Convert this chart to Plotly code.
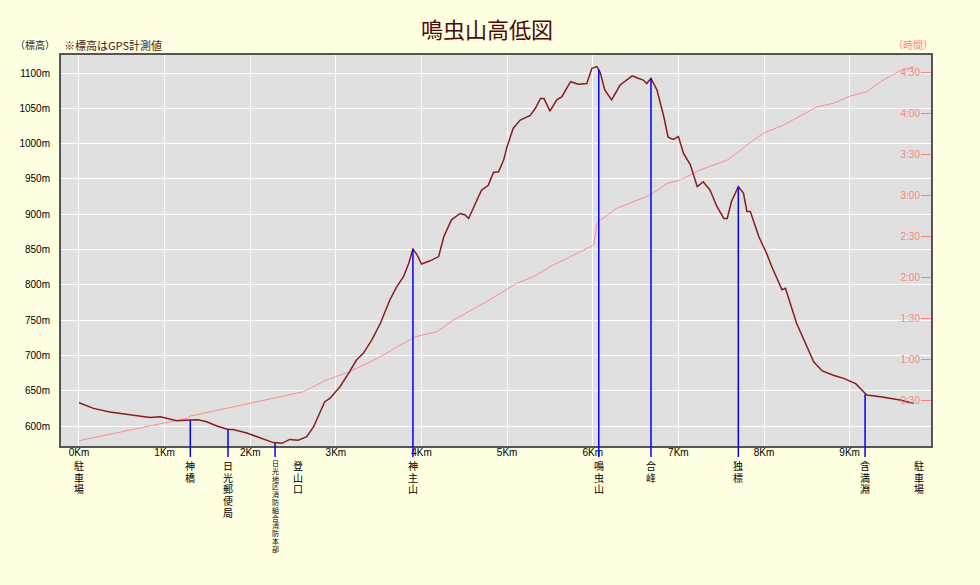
import plotly.graph_objects as go

# ---- data ----
dist_km = [0.00, 0.17, 0.36, 0.60, 0.83, 0.95, 1.02, 1.14, 1.30, 1.39, 1.49, 1.61, 1.74, 1.80,
           1.96, 2.11, 2.27, 2.37, 2.46, 2.56, 2.66, 2.74, 2.87, 2.93, 3.05, 3.15, 3.24, 3.32,
           3.42, 3.52, 3.63, 3.71, 3.79, 3.85, 3.90, 3.95, 4.00, 4.10, 4.20, 4.26, 4.35, 4.45,
           4.51, 4.55, 4.61, 4.70, 4.78, 4.84, 4.90, 4.96, 5.00, 5.07, 5.15, 5.27, 5.33, 5.39,
           5.43, 5.50, 5.58, 5.64, 5.74, 5.83, 5.93, 5.99, 6.05, 6.09, 6.14, 6.22, 6.32, 6.46,
           6.53, 6.59, 6.63, 6.68, 6.75, 6.83, 6.88, 6.94, 7.00, 7.06, 7.14, 7.22, 7.29, 7.37,
           7.45, 7.53, 7.57, 7.62, 7.70, 7.76, 7.80, 7.84, 7.94, 8.03, 8.09, 8.21, 8.25, 8.38,
           8.58, 8.68, 8.81, 8.93, 9.07, 9.20, 9.36, 9.59, 9.75]
elev_m = [633, 625, 620, 616, 612, 613, 611, 607.5, 608.5, 609, 606, 600, 595, 595,
          590, 583, 576.5, 575.5, 581, 580, 585, 599, 634.5, 639, 656, 675, 693.5, 703,
          722, 745.5, 778.5, 797, 811.5, 830, 851, 842, 829.5, 834, 840, 868, 892, 901,
          899, 894, 911, 934, 941, 959, 960, 977, 996, 1021.5, 1033, 1040, 1050, 1064,
          1064, 1046, 1062, 1066.5, 1087.7, 1084, 1085, 1106.6, 1109, 1099.5, 1076, 1062, 1083, 1096,
          1092.5, 1090, 1085, 1092.5, 1076, 1038, 1009, 1006, 1010, 986, 970, 939, 946, 934,
          911, 894, 894, 918, 939, 930, 904, 904, 868, 844.6, 826, 793, 795, 745.5,
          691, 678, 672, 667.5, 660, 644, 641.5, 637, 632]

time_km = [0.00, 1.27, 1.29, 1.72, 2.27, 2.62, 2.89, 3.16, 3.48, 3.87, 3.93, 4.18, 4.37, 4.76,
           5.02, 5.11, 5.31, 5.50, 5.70, 5.89, 6.01, 6.05, 6.09, 6.28, 6.48, 6.67, 6.87, 7.02,
           7.25, 7.57, 7.68, 7.80, 7.99, 8.23, 8.62, 8.81, 9.01, 9.20, 9.36, 9.59, 9.75]
time_min = [1.0, 17.5, 18.8, 24.6, 31.9, 36.7, 45.3, 51.3, 61.0, 74.5, 76.9, 80.5, 89.0, 102.4,
            112.2, 115.8, 120.7, 128.0, 134.1, 140.1, 143.8, 159.6, 162.0, 170.6, 175.4, 180.3, 188.8, 191.2,
            198.5, 205.8, 210.7, 216.8, 225.3, 231.4, 244.7, 247.2, 252.6, 255.7, 263.0, 271.0, 273.9]

# waypoints: name, km, elevation (None = label only)
wp_names = ["駐車場", "神橋", "日光郵便局", "日光地区消防組合消防本部", "登山口", "神主山",
            "鳴虫山", "合峰", "独標", "含満淵", "駐車場"]
wp_km = [0.0, 1.30, 1.74, 2.29, 2.56, 3.90, 6.07, 6.68, 7.70, 9.18, 9.81]
wp_elev = [None, 608.5, 595, 576, None, 851, 1105, 1092.5, 939, 645, None]

elev_ticks = [600, 650, 700, 750, 800, 850, 900, 950, 1000, 1050, 1100]
elev_ticktext = [f"{v}m" for v in elev_ticks]
time_ticks = [30, 60, 90, 120, 150, 180, 210, 240, 270]
time_ticktext = ["0:30", "1:00", "1:30", "2:00", "2:30", "3:00", "3:30", "4:00", "4:30"]
km_ticks = list(range(10))
km_ticktext = [f"{k}Km" for k in km_ticks]

ELEV_RANGE = [571.7, 1125.5]
TIME_RANGE = [-2.9, 282.5]
X_RANGE = [-0.21, 9.95]

W, H = 980, 585
ML, MR, MT, MB = 61, 49, 55, 139
PLOT_H = H - MT - MB

fig = go.Figure()
fig.add_trace(go.Scatter(x=time_km, y=time_min, mode="lines", yaxis="y",
                         line=dict(color="#FF8C8C", width=1), hoverinfo="skip"))
fig.add_trace(go.Scatter(x=dist_km, y=elev_m, mode="lines", yaxis="y2",
                         line=dict(color="#8B1C1C", width=1.5), hoverinfo="skip"))

shapes = []
annotations = []
for name, km, ev in zip(wp_names, wp_km, wp_elev):
    if ev is not None:
        shapes.append(dict(type="line", xref="x", yref="y2", x0=km, x1=km, y0=ev, y1=ELEV_RANGE[0],
                           line=dict(color="#0000FF", width=1.5), layer="above"))
        shapes.append(dict(type="line", xref="x", yref="paper", x0=km, x1=km, y0=0, y1=-11 / PLOT_H,
                           line=dict(color="#0000FF", width=1.5), layer="above"))
    long = len(name) > 6
    base = 6 if long else 9            # sets the line spacing (1.3 x base)
    glyph = 7 if long else 10          # visible glyph size
    txt = "<br>".join(f'<span style="font-size:{glyph}px">{ch}</span>' for ch in name)
    annotations.append(dict(text=txt, x=km, xref="x", y=0, yref="paper", xanchor="center",
                            yanchor="top", yshift=-11, showarrow=False, borderpad=0,
                            font=dict(family="Noto Sans CJK JP", size=base, color="#000000")))

annotations += [
    dict(text="（標高）", x=0, y=1, xref="paper", yref="paper", xanchor="right", yanchor="bottom",
         xshift=-4, yshift=1, showarrow=False,
         font=dict(family="Noto Sans CJK JP", size=10, color="#222222")),
    dict(text="※標高はGPS計測値", x=0, y=1, xref="paper", yref="paper", xanchor="left", yanchor="bottom",
         xshift=1, yshift=0, showarrow=False,
         font=dict(family="Noto Sans CJK JP", size=11, color="#4A1A1A")),
    dict(text="（時間）", x=1, y=1, xref="paper", yref="paper", xanchor="right", yanchor="bottom",
         xshift=4, yshift=1, showarrow=False,
         font=dict(family="Noto Sans CJK JP", size=10, color="#FF8080")),
]

fig.update_layout(
    width=W, height=H,
    margin=dict(l=ML, r=MR, t=MT, b=MB),
    paper_bgcolor="#FFFFE1",
    plot_bgcolor="#E0E0E0",
    showlegend=False,
    title=dict(text="鳴虫山高低図", x=0.497, xanchor="center", y=1 - 30 / H, yanchor="middle",
               font=dict(family="Noto Sans CJK JP", size=22, color="#4A0A0A")),
    xaxis=dict(range=X_RANGE, tickvals=km_ticks, ticktext=km_ticktext, showgrid=True,
               gridcolor="#FFFFFF", gridwidth=1, zeroline=False, showline=True, mirror=True,
               linecolor="#555555", linewidth=2, ticks="", ticklabelstandoff=-4,
               tickfont=dict(family="Liberation Sans", size=10, color="#000000")),
    yaxis=dict(range=TIME_RANGE, side="right", tickvals=time_ticks, ticktext=time_ticktext,
               showgrid=False, zeroline=False, showline=True, linecolor="#555555", linewidth=2,
               ticks="inside", ticklen=10, tickcolor="#FF8080", tickwidth=1,
               ticklabelposition="inside",
               tickfont=dict(family="Liberation Sans", size=10, color="#FF8080")),
    yaxis2=dict(range=ELEV_RANGE, side="left", overlaying="y", tickvals=elev_ticks,
                ticktext=elev_ticktext, showgrid=True, gridcolor="#FFFFFF", gridwidth=1,
                zeroline=False, showline=True, linecolor="#555555", linewidth=2, ticks="",
                ticklabelstandoff=7,
                tickfont=dict(family="Liberation Sans", size=10, color="#000000")),
    shapes=shapes,
    annotations=annotations,
)

fig.write_html("out.html", config={"displayModeBar": False},
               post_script="document.body.style.margin='0';")
